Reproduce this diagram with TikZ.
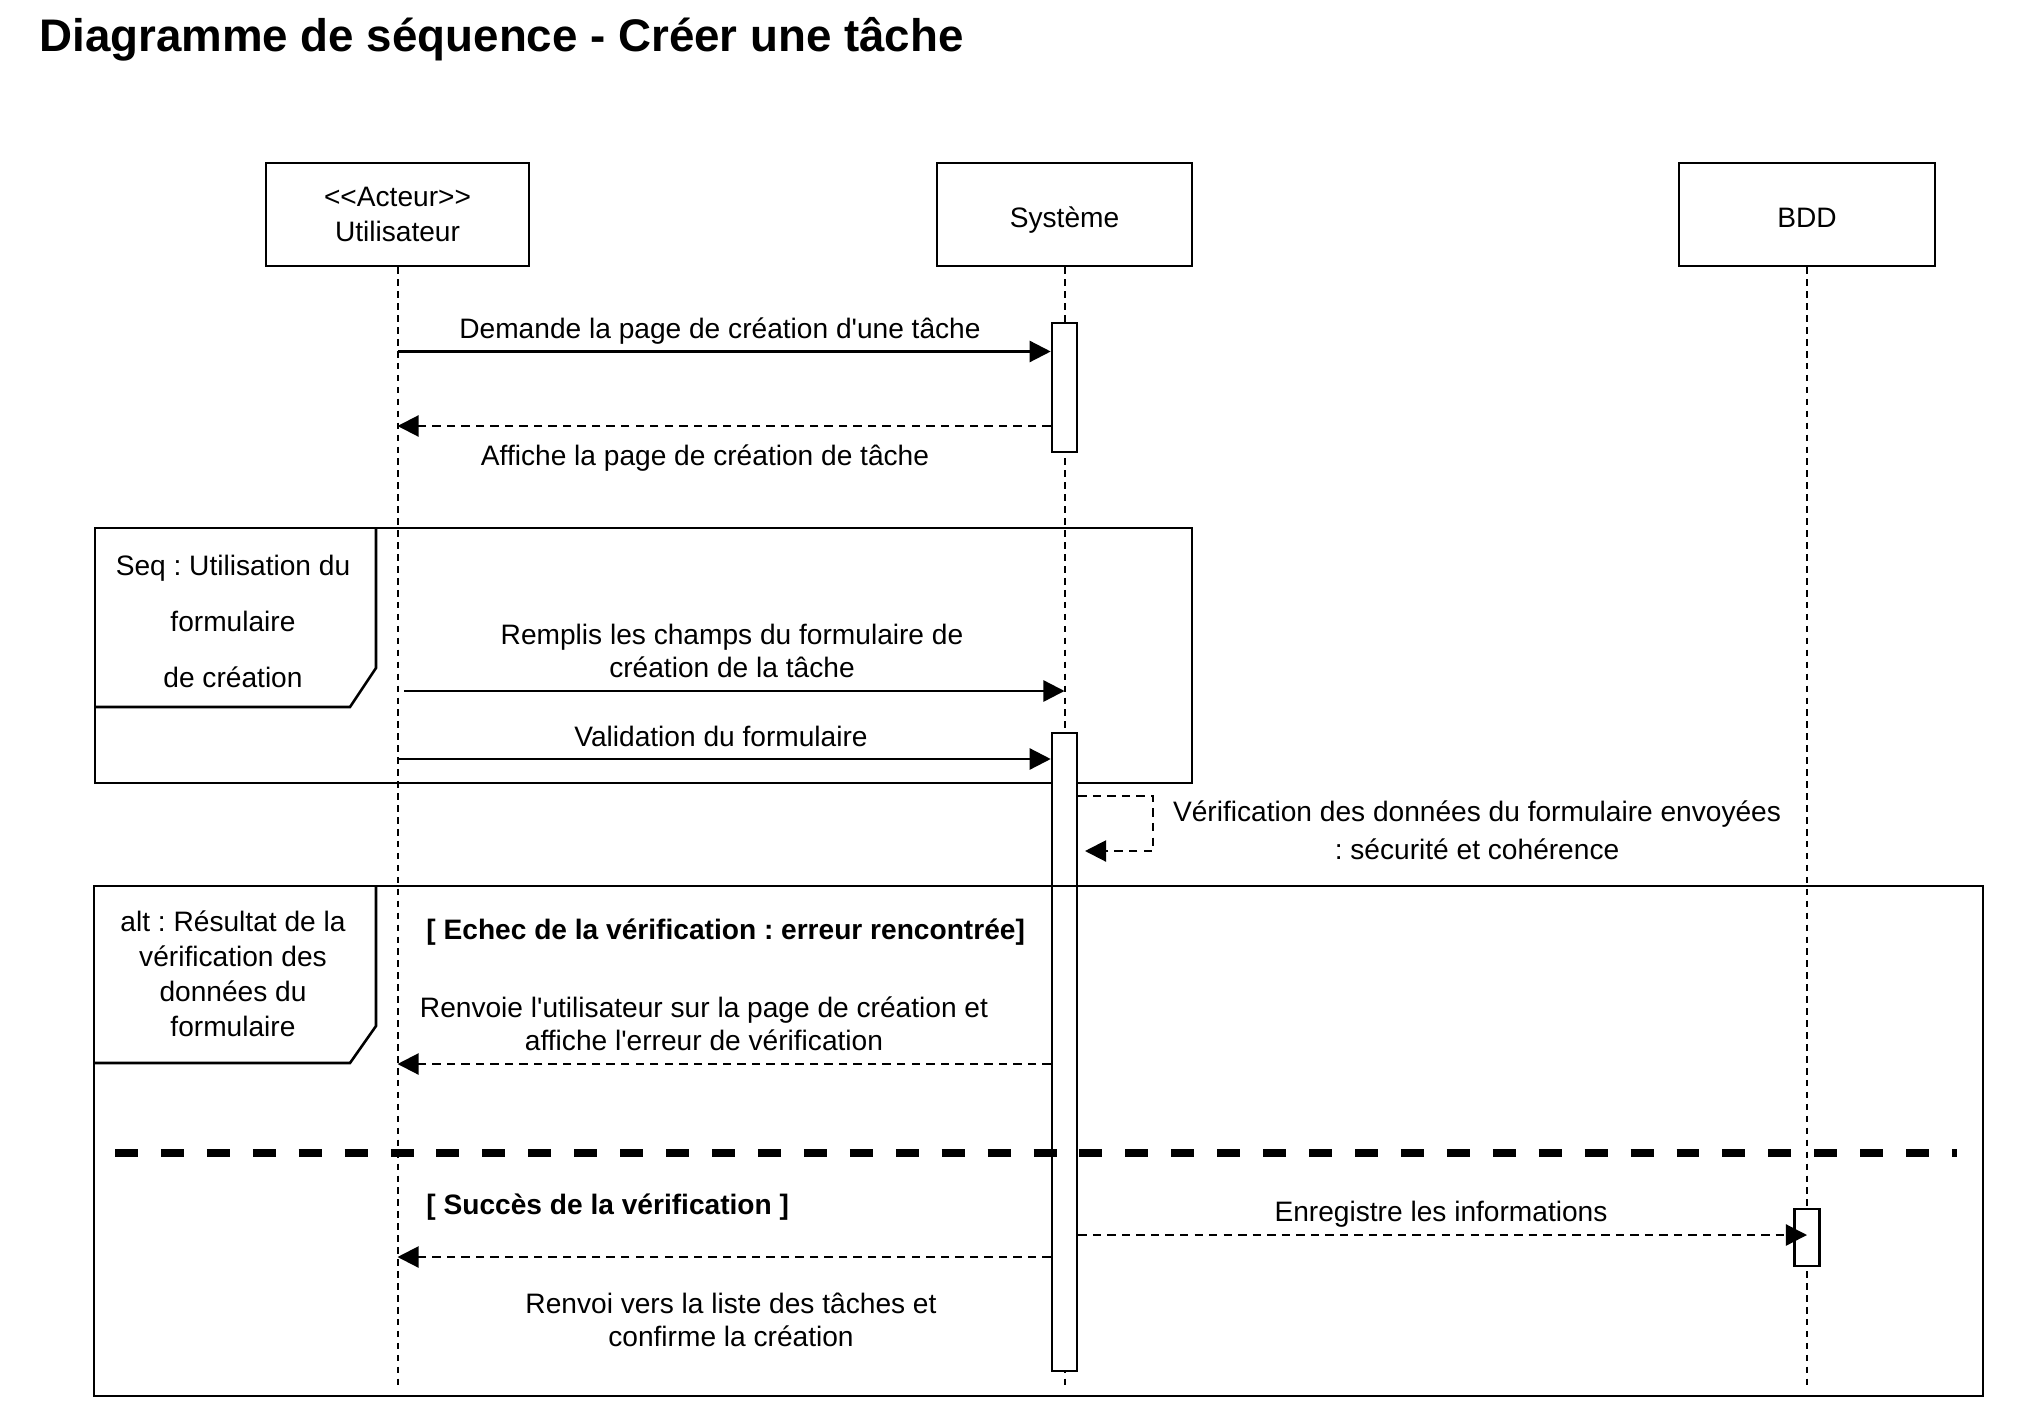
\documentclass[tikz,border=0pt]{standalone}
\usepackage{fontspec}
\setmainfont{Liberation Sans}[Ligatures=TeXOff]
\usetikzlibrary{arrows.meta}
\frenchspacing

\begin{document}
\begin{tikzpicture}[x=0.015cm,y=-0.015cm,
  font=\fontsize{12}{14.1}\selectfont,
  lbox/.style={draw,line width=1.1pt,minimum width=#1,minimum height=1.545cm,align=center,inner sep=0pt},
  lline/.style={line width=0.85pt,dash pattern=on 2.8pt off 2.3pt},
  act/.style={draw,line width=1.1pt,fill=white,minimum width=0.375cm,minimum height=#1,inner sep=0pt},
  msg/.style={line width=1pt,-{Triangle[length=9pt,width=9pt]}},
  ret/.style={msg,line width=0.9pt,dash pattern=on 3.6pt off 2.6pt},
  frm/.style={line width=1.1pt},
  lbl/.style={align=center,inner sep=0pt},
  grd/.style={anchor=west,inner sep=0pt,font=\fontsize{12}{14.1}\selectfont\bfseries}]
\useasboundingbox (0,0) rectangle (2042,1416);

\node[anchor=base west,inner sep=0pt,font=\fontsize{19.5}{23}\selectfont\bfseries] (title) at (39,52) {Diagramme de séquence - Créer une tâche};

\node[lbox=3.945cm,font=\fontsize{12}{14.9}\selectfont] (u) at (397.5,214.5) {<\kern0pt<Acteur>\kern0pt>\\Utilisateur};
\node[lbox=3.825cm,text height=10.7pt,text depth=0pt] (s) at (1064.5,214.5) {Système};
\node[lbox=3.84cm,text height=10.7pt,text depth=0pt] (b) at (1807,214.5) {BDD};
\coordinate (lend) at (0,1387);
\foreach \n in {u,s,b}
  \draw[lline] (\n.south) -- (\n.south |- lend);

\draw[frm] (95,528) rectangle (1192,783);
\draw[frm] (95,707) -- (350,707) -- (376,668) -- (376,528);
\node[lbl,font=\fontsize{12}{23.9}\selectfont] (seqlbl) at (233,621) {Seq : Utilisation du\\formulaire\\de création};

\node[act=1.935cm] (a1) at (1064.5,387.5) {};
\node[act=9.57cm] (a2) at (1064.5,1052) {};
\node[act=0.855cm] (a3) at (1807,1237.5) {};

\foreach \y/\n in {351.5/1,426/2,759/4,1064/5,1235/6,1257/7}
  \coordinate (m\n) at (0,\y);
\coordinate (m3) at (404,691);
\coordinate (sm1) at (1153,796);
\coordinate (sm2) at (1085,851);

\draw[msg] (u |- m1) -- (a1.west |- m1);
\node[lbl] (t1) at (720,331) {Demande la page de création d'une tâche};
\draw[ret] (a1.west |- m2) -- (u |- m2);
\node[lbl] (t2) at (705,458) {Affiche la page de création de tâche};
\draw[msg] (m3) -- (s |- m3);
\node[lbl] (t3) at (732,651) {Remplis les champs du formulaire de\\création de la tâche};
\draw[msg] (u |- m4) -- (a2.west |- m4);
\node[lbl] (t4) at (721,736) {Validation du formulaire};
\draw[ret] (a2.east |- sm1) -- (sm1) |- (sm2);
\node[lbl,font=\fontsize{12}{16.4}\selectfont] (t5) at (1477,830) {Vérification des données du formulaire envoyées\\: sécurité et cohérence};

\draw[frm] (94,886) rectangle (1983,1396);
\draw[frm] (94,1063) -- (350,1063) -- (376,1026) -- (376,886);
\node[lbl,font=\fontsize{12}{15}\selectfont] (altlbl) at (233,974) {alt : Résultat de la\\vérification des\\données du\\formulaire};
\node[grd] (g1) at (426,932) {[ Echec de la vérification : erreur rencontrée]};
\draw[ret] (a2.west |- m5) -- (u |- m5);
\node[lbl] (t6) at (704,1024) {Renvoie l'utilisateur sur la page de création et\\affiche l'erreur de vérification};
\coordinate (sepl) at (115,1153);
\coordinate (sepr) at (1957,1153);
\draw[line width=3pt,dash pattern=on 9.8pt off 9.8pt] (sepl) -- (sepr);
\node[grd] (g2) at (426,1207) {[ Succès de la vérification ]};
\draw[ret] (a2.east |- m6) -- (b |- m6);
\node[lbl] (t7) at (1441,1214) {Enregistre les informations};
\draw[ret] (a2.west |- m7) -- (u |- m7);
\node[lbl] (t8) at (731,1320) {Renvoi vers la liste des tâches et\\confirme la création};
\end{tikzpicture}
\end{document}
